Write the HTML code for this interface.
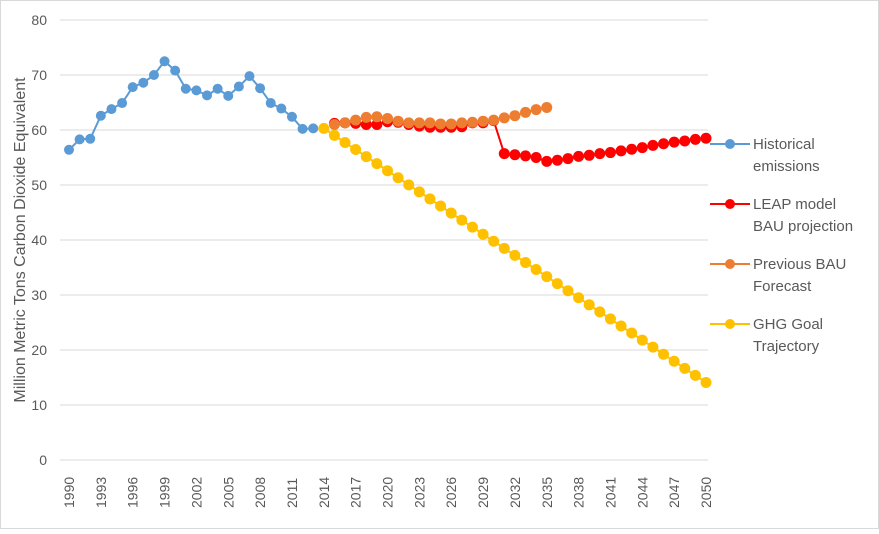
<!DOCTYPE html>
<html><head><meta charset="utf-8"><style>
body{margin:0;background:#fff;}
svg text{font-family:"Liberation Sans",sans-serif;fill:#595959;}
</style></head><body>
<svg id="s" width="879" height="529" xmlns="http://www.w3.org/2000/svg">
<rect x="0.5" y="0.5" width="878" height="528" fill="#fff" stroke="#d9d9d9"/>
<g id="grid" stroke="#d9d9d9" stroke-width="1"></g>
<g id="ylab" font-size="14" text-anchor="end"></g>
<g id="xlab" font-size="14"></g>
<text transform="translate(25,240) rotate(-90)" font-size="16" text-anchor="middle">Million Metric Tons Carbon Dioxide Equivalent</text>
<g id="series"></g>
<g font-size="15">
<text x="753" y="149">Historical</text><text x="753" y="171">emissions</text>
<text x="753" y="209">LEAP model</text><text x="753" y="231">BAU projection</text>
<text x="753" y="269">Previous BAU</text><text x="753" y="291">Forecast</text>
<text x="753" y="329">GHG Goal</text><text x="753" y="351">Trajectory</text>
</g>
<g id="leg"></g>
</svg>
<script>
const NS="http://www.w3.org/2000/svg";
const X=y=>69+(y-1990)*637/60, Y=v=>460-v*5.5;
function el(p,t,a){const e=document.createElementNS(NS,t);for(const k in a)e.setAttribute(k,a[k]);document.getElementById(p).appendChild(e);return e;}
for(let v=0;v<=80;v+=10){el('grid','line',{x1:60,x2:708,y1:Y(v),y2:Y(v)});const t=el('ylab','text',{x:47,y:Y(v)+5});t.textContent=v;}
for(let y=1990;y<=2050;y+=3){const t=el('xlab','text',{transform:`translate(${X(y)+5},${508}) rotate(-90)`});t.textContent=y;}
function ser(start,vals,col,r){const pts=vals.map((v,i)=>[X(start+i),Y(v)]);
el('series','polyline',{points:pts.map(p=>p.join(',')).join(' '),fill:'none',stroke:col,'stroke-width':2});
pts.forEach(p=>el('series','circle',{cx:p[0],cy:p[1],r:r,fill:col}));}
const hist=[56.4,58.3,58.4,62.6,63.8,64.9,67.8,68.6,70,72.5,70.8,67.5,67.2,66.3,67.5,66.2,67.9,69.8,67.6,64.9,63.9,62.4,60.2,60.3];
const red=[61.2,61.3,61.2,61.0,61.0,61.5,61.4,61.0,60.7,60.5,60.5,60.5,60.6,61.3,61.3,61.7,55.7,55.5,55.3,55,54.3,54.5,54.8,55.2,55.4,55.7,55.9,56.2,56.5,56.8,57.2,57.5,57.8,58,58.3,58.5];
const org=[61,61.3,61.8,62.3,62.4,62.1,61.6,61.3,61.3,61.3,61.1,61.1,61.3,61.4,61.6,61.8,62.2,62.6,63.2,63.7,64.1];
const yel=[];for(let i=0;i<=36;i++)yel.push(60.3-(60.3-14.1)*i/36);
ser(1990,hist,'#5b9bd5',5);
ser(2015,red,'#ff0000',5.5);
ser(2015,org,'#ed7d31',5.5);
ser(2014,yel,'#ffc000',5.5);
[[144,'#5b9bd5'],[204,'#ff0000'],[264,'#ed7d31'],[324,'#ffc000']].forEach(([y,c])=>{
el('leg','line',{x1:710,x2:750,y1:y,y2:y,stroke:c,'stroke-width':2});el('leg','circle',{cx:730,cy:y,r:5,fill:c});});
</script>
</body></html>
